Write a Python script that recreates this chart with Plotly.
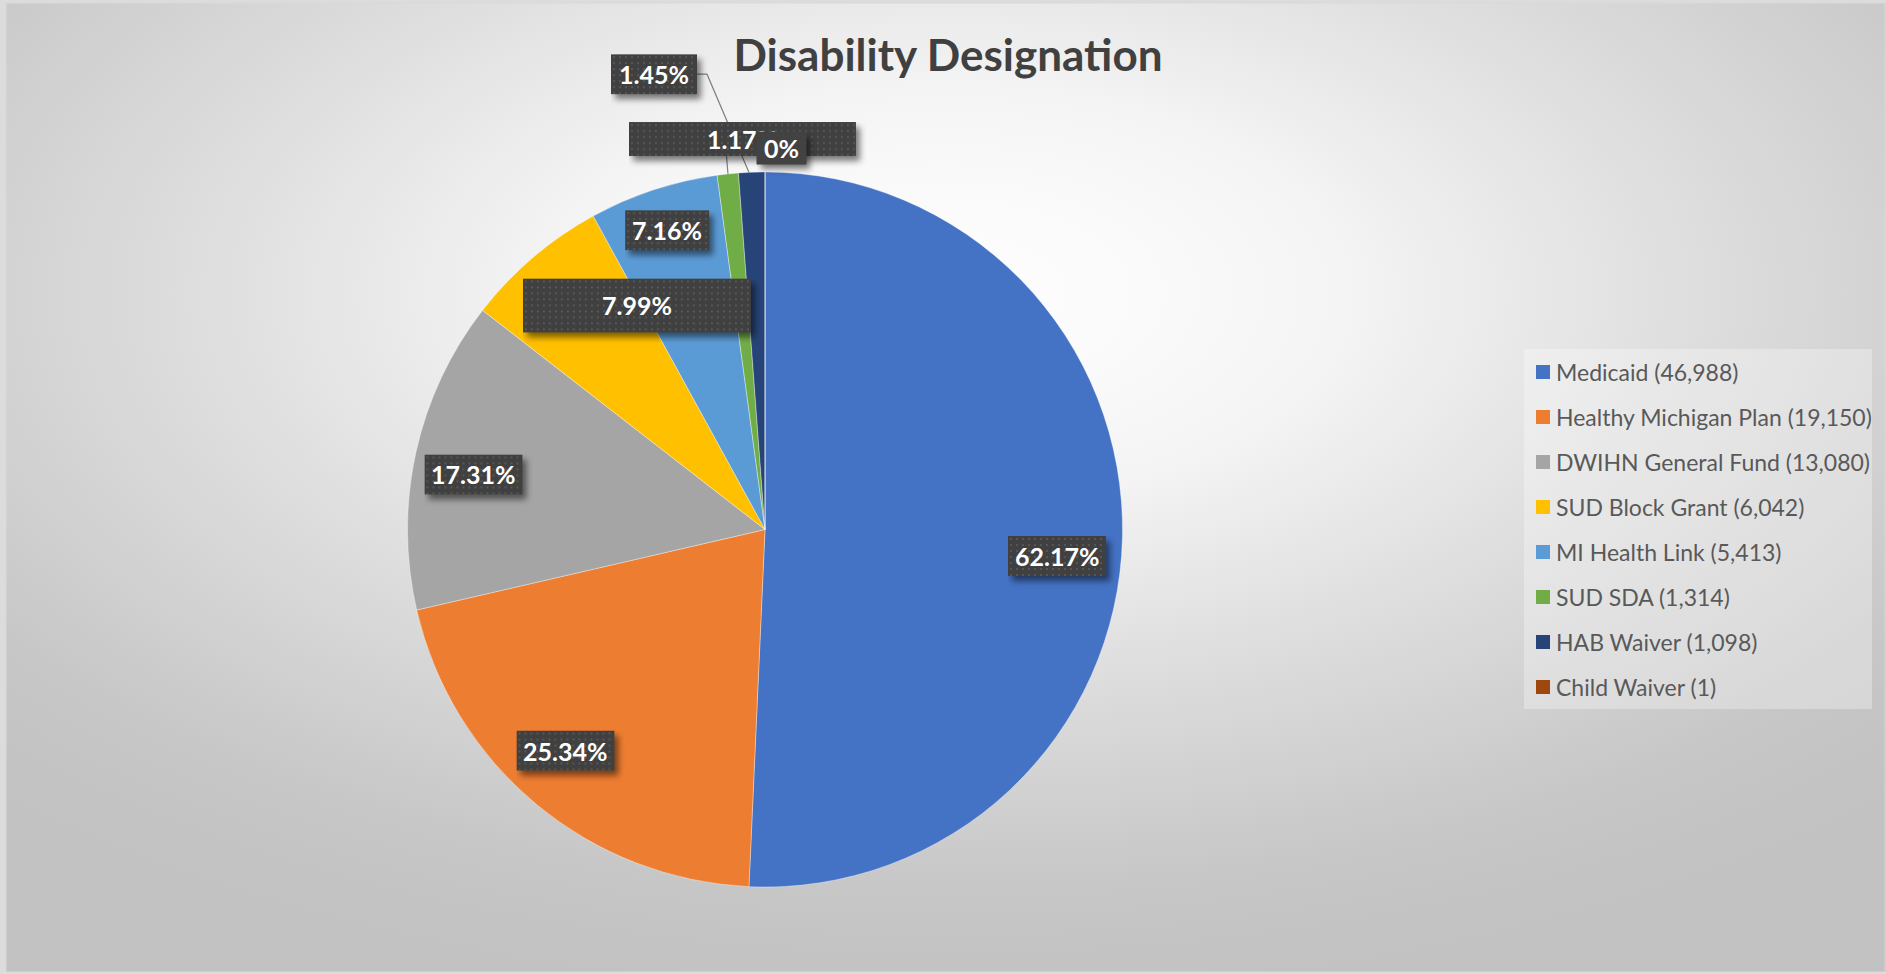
import base64
import math
import plotly.graph_objects as go

W, H = 1886, 974

# ---- data -------------------------------------------------------------
categories = [
    "Medicaid",
    "Healthy Michigan Plan",
    "DWIHN General Fund",
    "SUD Block Grant",
    "MI Health Link",
    "SUD SDA",
    "HAB Waiver",
    "Child Waiver",
]
counts = [46988, 19150, 13080, 6042, 5413, 1314, 1098, 1]
shares = [62.17, 25.34, 17.31, 7.99, 7.16, 1.17, 1.45, 0]
colors = ["#4472C4", "#ED7D31", "#A5A5A5", "#FFC000",
          "#5B9BD5", "#70AD47", "#264478", "#9E480E"]

# ---- geometry (pixels) ------------------------------------------------
CX, CY, R = 765.0, 529.5, 357.5

# data-label boxes: radius fraction, angular nudge (deg), box size, leader
label_style = {
    "Medicaid":              dict(r=0.820, dt=3.9,    w=98,  h=40),
    "Healthy Michigan Plan": dict(r=0.833, dt=2.3,    w=98,  h=40),
    "DWIHN General Fund":    dict(r=0.830, dt=-1.7,   w=98,  h=40),
    "SUD Block Grant":       dict(r=0.722, dt=10.7,   w=228, h=54),
    "MI Health Link":        dict(r=0.881, dt=0.1,    w=84,  h=40),
    "SUD SDA":               dict(r=1.094, dt=2.67,   w=227, h=34, leader="bottom"),
    "HAB Waiver":            dict(r=1.311, dt=-11.57, w=86,  h=40, leader="right"),
    "Child Waiver":          dict(r=1.068, dt=2.48,   w=49,  h=32, cover=True),
}


def fx(x):
    return x / W


def fy(y):
    return 1 - y / H


def polar(angle_deg, radius):
    a = math.radians(angle_deg)
    return CX + radius * math.sin(a), CY - radius * math.cos(a)


def svg_uri(svg):
    return "data:image/svg+xml;base64," + base64.b64encode(svg.encode()).decode()


# ---- background -------------------------------------------------------
bg_svg = (
    f'<svg xmlns="http://www.w3.org/2000/svg" width="{W}" height="{H}" '
    f'viewBox="0 0 {W} {H}" preserveAspectRatio="none">'
    '<defs><radialGradient id="g" cx="0.5" cy="0.3" r="0.72">'
    '<stop offset="0" stop-color="#ffffff"/>'
    '<stop offset="0.28" stop-color="#f5f5f5"/>'
    '<stop offset="0.55" stop-color="#dedede"/>'
    '<stop offset="0.85" stop-color="#c7c7c7"/>'
    '<stop offset="1" stop-color="#c2c2c2"/>'
    '</radialGradient></defs>'
    f'<rect width="{W}" height="{H}" fill="url(#g)"/></svg>'
)

images = [dict(source=svg_uri(bg_svg), xref="paper", yref="paper",
               x=fx(6), y=fy(3), sizex=fx(W - 6), sizey=(H - 5) / H,
               xanchor="left", yanchor="top", sizing="stretch", layer="below")]
shapes = [dict(type="rect", xref="paper", yref="paper",
               x0=fx(6), y0=fy(3), x1=fx(W - 1), y1=fy(972),
               line=dict(color="#d9d9d9", width=1), layer="below")]
annotations = []

# ---- pie --------------------------------------------------------------
fig = go.Figure(go.Pie(
    labels=categories,
    values=shares,
    marker=dict(colors=colors, line=dict(color="rgba(255,255,255,0.45)", width=0.8)),
    sort=False,
    direction="clockwise",
    rotation=0,
    textinfo="none",
    hovertemplate="%{label}: %{value}%<extra></extra>",
    showlegend=False,
    domain=dict(x=[fx(CX - R), fx(CX + R)], y=[fy(CY + R), fy(CY - R)]),
))

# ---- data labels ------------------------------------------------------
total = sum(shares)
cum = 0.0
PAD = 14
for name, val in zip(categories, shares):
    start = cum / total * 360
    cum += val
    end = cum / total * 360
    mid = (start + end) / 2
    st = label_style[name]
    bx, by = polar(mid + st["dt"], st["r"] * R)
    w, h = st["w"], st["h"]
    left, top = bx - w / 2, by - h / 2

    box_svg = (
        f'<svg xmlns="http://www.w3.org/2000/svg" width="{w + PAD}" height="{h + PAD}" '
        f'viewBox="0 0 {w + PAD} {h + PAD}">'
        '<defs><pattern id="p" width="6" height="6" patternUnits="userSpaceOnUse">'
        '<rect width="6" height="6" fill="#404040"/>'
        '<rect x="2" y="2" width="2" height="2" fill="#565656"/></pattern>'
        '<filter id="s" x="-30%" y="-30%" width="160%" height="160%">'
        '<feGaussianBlur stdDeviation="3"/></filter></defs>'
        f'<rect x="4" y="5" width="{w}" height="{h}" fill="#000" fill-opacity="0.5" filter="url(#s)"/>'
        f'<rect x="0" y="0" width="{w}" height="{h}" fill="url(#p)"/></svg>'
    )
    images.append(dict(source=svg_uri(box_svg), xref="paper", yref="paper",
                       x=fx(left), y=fy(top), sizex=(w + PAD) / W, sizey=(h + PAD) / H,
                       xanchor="left", yanchor="top", sizing="stretch", layer="above"))

    leader = st.get("leader")
    if leader:
        ex, ey = polar(mid, 0.98 * R)
        if leader == "right":
            sx, sy = left + w, by
            path = f"M {fx(sx)},{fy(sy)} L {fx(sx + 10)},{fy(sy)} L {fx(ex)},{fy(ey)}"
        else:
            sx, sy = ex - 2, top + h
            path = f"M {fx(sx)},{fy(sy)} L {fx(ex)},{fy(ey)}"
        shapes.append(dict(type="path", xref="paper", yref="paper", path=path,
                           line=dict(color="#7f7f7f", width=1.2), layer="below"))

    ann = dict(xref="paper", yref="paper", x=fx(bx), y=fy(by),
               xanchor="center", yanchor="middle", showarrow=False,
               text=f"{val:g}%",
               font=dict(family="Lato", size=25, color="#ffffff", weight=700))
    if st.get("cover"):
        ann.update(bgcolor="#424242", width=w - 2, height=h - 2, borderpad=1)
    annotations.append(ann)

# ---- legend -----------------------------------------------------------
LEG_X0, LEG_Y0, LEG_X1, LEG_Y1 = 1524, 349, 1872, 709
shapes.append(dict(type="rect", xref="paper", yref="paper",
                   x0=fx(LEG_X0), y0=fy(LEG_Y0), x1=fx(LEG_X1), y1=fy(LEG_Y1),
                   fillcolor="rgba(255,255,255,0.3)", line=dict(width=0), layer="below"))
for i, (name, n, c) in enumerate(zip(categories, counts, colors)):
    yc = 372 + 45 * i
    shapes.append(dict(type="rect", xref="paper", yref="paper",
                       x0=fx(1536), x1=fx(1550), y0=fy(yc - 7), y1=fy(yc + 7),
                       fillcolor=c, line=dict(width=0), layer="above"))
    annotations.append(dict(xref="paper", yref="paper", x=fx(1554), y=fy(yc),
                            xanchor="left", yanchor="middle", showarrow=False,
                            text=f"{name} ({n:,})",
                            font=dict(family="Lato", size=23, color="#595959")))

fig.update_layout(
    width=W, height=H,
    margin=dict(l=0, r=0, t=0, b=0),
    paper_bgcolor="#dcdcdc",
    title=dict(text="Disability Designation", x=fx(948), xanchor="center",
               y=fy(56), yanchor="middle",
               font=dict(family="Lato", size=44, color="#404040", weight=700)),
    images=images,
    shapes=shapes,
    annotations=annotations,
)

fig.write_html("out.html")
